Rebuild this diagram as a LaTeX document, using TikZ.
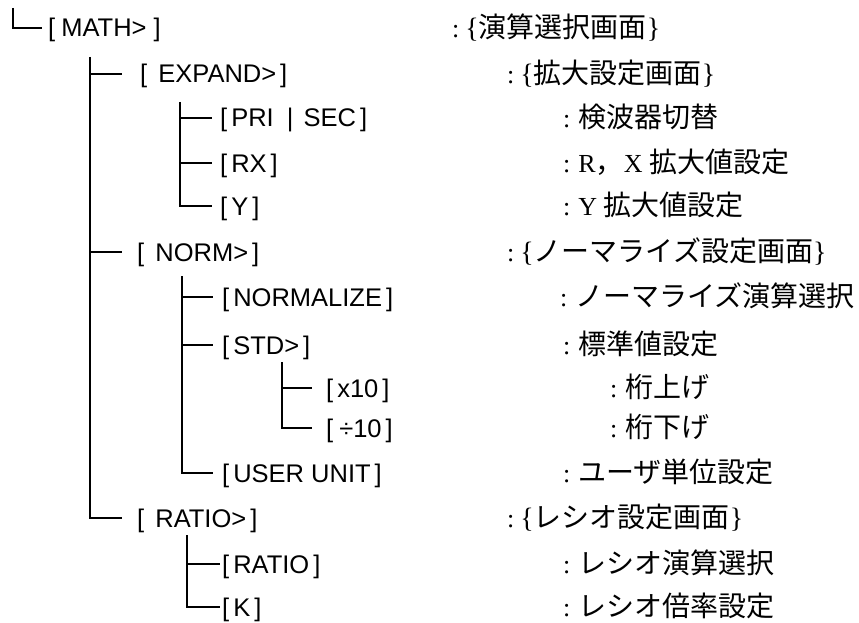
\documentclass[tikz,border=0pt]{standalone}
\usepackage{fontspec}
\setmainfont{Liberation Sans}
\newfontfamily\jpfont{Noto Sans CJK JP}
\newfontfamily\serif{Liberation Serif}
\usetikzlibrary{positioning}

% key in brackets, description helpers
\newcommand{\keyb}[1]{[\kern4pt#1\kern4pt]}
\newcommand{\lat}[1]{{\fontsize{26}{30}\selectfont\serif #1}}
\newcommand{\csep}{\lat{:}\hspace{8pt}}
\newcommand{\scr}[1]{\lat{:}\hspace{6pt}{\serif\{}#1{\serif\}}}

\begin{document}
\begin{tikzpicture}[
    x=1pt, y=-1pt,
    tree/.style={draw, line width=1.6pt},
    key/.style={anchor=west, inner sep=0pt, text height=18pt, text depth=0pt,
        font=\fontsize{25.5}{30}\selectfont},
    info/.style={anchor=west, inner sep=0pt, text height=19pt, text depth=0pt,
        font=\fontsize{28}{32}\selectfont\jpfont}
]
\useasboundingbox (0,0) rectangle (859,623);

% --- keys ---
\node[key] (math) at (48, 28) {\keyb{\kern2pt MATH>\kern3pt}};
\node[key] (expand) at (140, 74) {\keyb{\ EXPAND>}};
\node[key] (prisec) at (220, 118) {\keyb{PRI\kern6pt\ |\ \kern3pt SEC}};
\node[key] (rx) at (220, 163) {\keyb{RX}};
\node[key] (yy) at (220, 206) {\keyb{Y}};
\node[key] (norm) at (137, 252) {\keyb{\ NORM>}};
\node[key] (normalize) at (222, 297) {\keyb{NORMALIZE}};
\node[key] (std) at (222, 345) {\keyb{STD>}};
\node[key] (up10) at (326, 388) {\keyb{x10}};
\node[key] (down10) at (326, 428) {\keyb{\kern2pt÷10}};
\node[key] (userunit) at (222, 473) {\keyb{USER UNIT}};
\node[key] (ratiomenu) at (137, 518) {\keyb{\ RATIO>}};
\node[key] (ratio) at (222, 564) {\keyb{RATIO}};
\node[key] (kk) at (222, 607) {\keyb{K}};

% --- descriptions ---
\node[info] (d-math) at (452, 28) {\scr{演算選択画面}};
\node[info] (d-expand) at (507, 74) {\scr{拡大設定画面}};
\node[info] (d-prisec) at (563, 118) {\csep 検波器切替};
\node[info] (d-rx) at (563, 163) {\csep\lat{R}，\lat{X\ }拡大値設定};
\node[info] (d-yy) at (563, 206) {\csep\lat{Y\ }拡大値設定};
\node[info] (d-norm) at (507, 252) {\scr{ノーマライズ設定画面}};
\node[info] (d-normalize) at (560, 297) {\csep ノーマライズ演算選択};
\node[info] (d-std) at (563, 345) {\csep 標準値設定};
\node[info] (d-up10) at (610, 388) {\csep 桁上げ};
\node[info] (d-down10) at (610, 428) {\csep 桁下げ};
\node[info] (d-userunit) at (563, 473) {\csep ユーザ単位設定};
\node[info] (d-ratiomenu) at (507, 518) {\scr{レシオ設定画面}};
\node[info] (d-ratio) at (563, 564) {\csep レシオ演算選択};
\node[info] (d-kk) at (563, 607) {\csep レシオ倍率設定};

% --- tree lines ---
\coordinate (t0) at (13, 8);
\coordinate (t1) at (90, 57);
\coordinate (t2) at (180, 102);
\coordinate (t3) at (182, 276);
\coordinate (t4) at (282, 362);
\coordinate (t5) at (187, 535);

\draw[tree] (t0) |- ([xshift=-6pt]math.west);

\draw[tree] (t1) |- ([xshift=-15pt]ratiomenu.west);
\draw[tree] (t1 |- expand) -- ([xshift=-18pt]expand.west);
\draw[tree] (t1 |- norm) -- ([xshift=-15pt]norm.west);

\draw[tree] (t2) |- ([xshift=-8pt]yy.west);
\draw[tree] (t2 |- prisec) -- ([xshift=-8pt]prisec.west);
\draw[tree] (t2 |- rx) -- ([xshift=-8pt]rx.west);

\draw[tree] (t3) |- ([xshift=-9pt]userunit.west);
\draw[tree] (t3 |- normalize) -- ([xshift=-9pt]normalize.west);
\draw[tree] (t3 |- std) -- ([xshift=-9pt]std.west);

\draw[tree] (t4) |- ([xshift=-14pt]down10.west);
\draw[tree] (t4 |- up10) -- ([xshift=-14pt]up10.west);

\draw[tree] (t5) |- ([xshift=-2pt]kk.west);
\draw[tree] (t5 |- ratio) -- ([xshift=-2pt]ratio.west);
\end{tikzpicture}
\end{document}
